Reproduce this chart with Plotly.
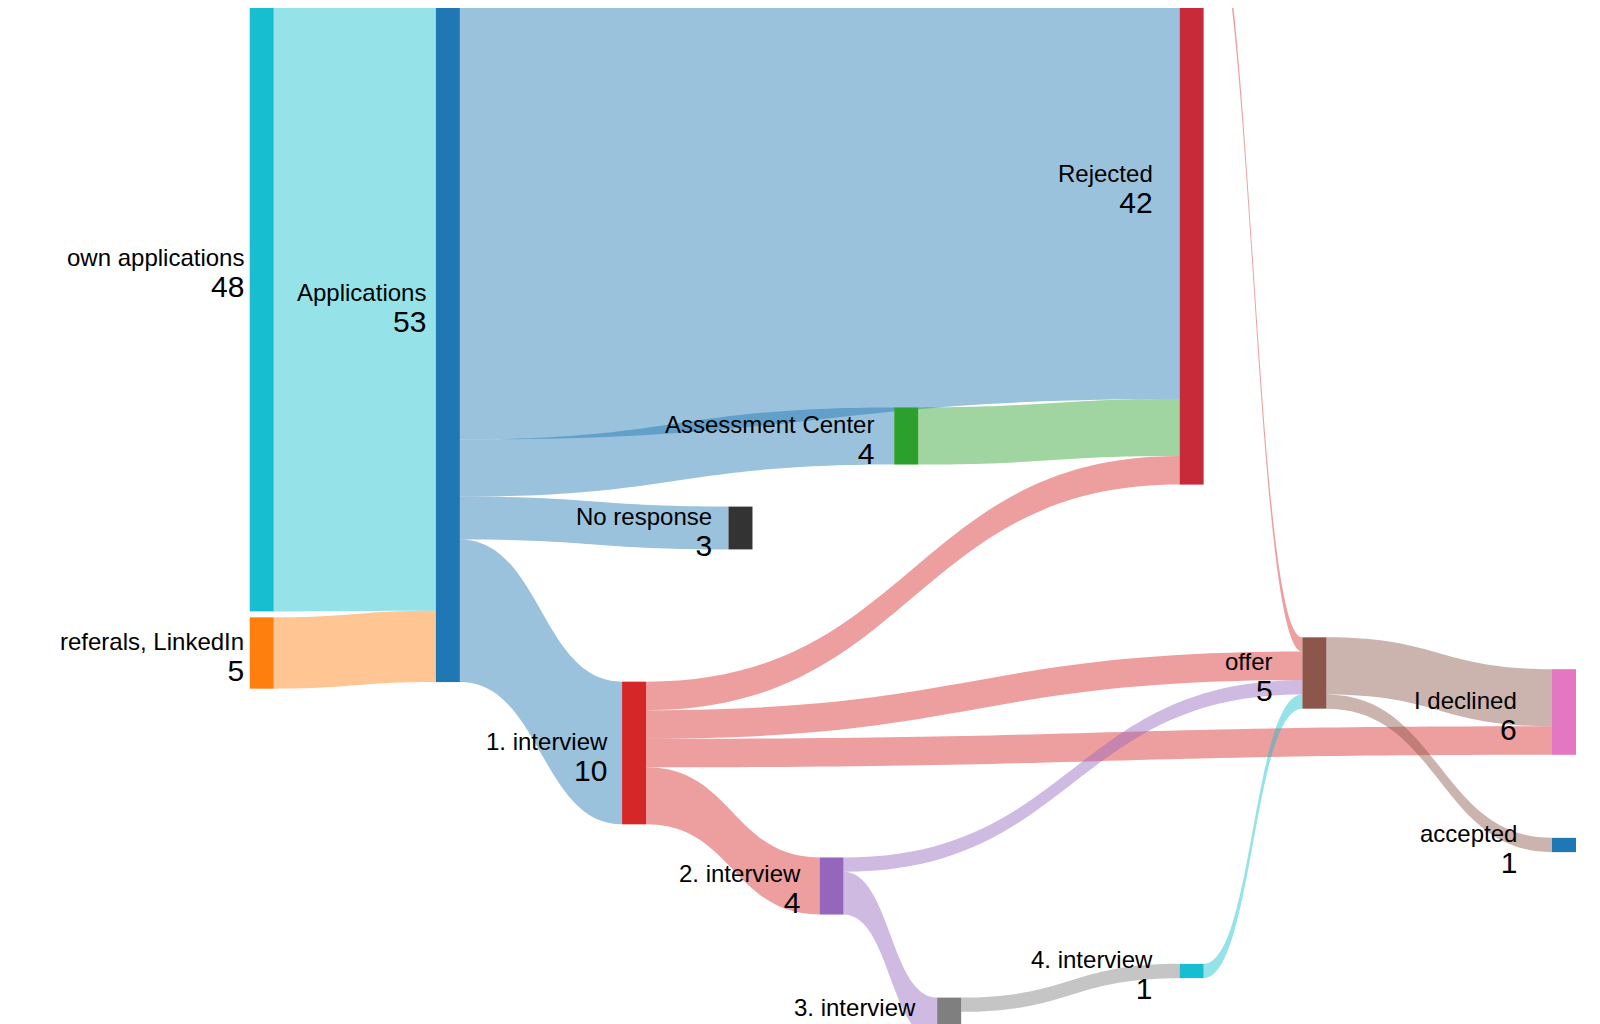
import plotly.graph_objects as go

W, H, NW = 1600, 1100, 24

names = ["own applications", "referals, LinkedIn", "Applications", "Rejected",
         "Assessment Center", "No response", "1. interview", "2. interview",
         "3. interview", "4. interview", "offer", "I declined", "accepted"]
node_values = [48, 5, 53, 42, 4, 3, 10, 4, 3, 1, 5, 6, 1]
node_colors = ["#17becf", "#ff7f0e", "#1f77b4", "#c92a3a", "#2ca02c", "#333333",
               "#d62728", "#9467bd", "#7f7f7f", "#17becf", "#8c564b", "#e377c2", "#1f77b4"]
# pixel positions (left edge, vertical centre)
node_left = [248, 248, 430, 1157, 878, 716, 612, 805, 920, 1157, 1277, 1521, 1521]
node_mid = [261, 645, 296, 177, 428, 520, 745, 878, 1011, 963, 665, 704, 837]

sources = [0, 1, 2, 2, 2, 2, 4, 6, 6, 6, 6, 7, 7, 8, 3, 9, 10, 10]
targets = [2, 2, 3, 4, 5, 6, 3, 3, 10, 11, 7, 10, 8, 9, 10, 10, 11, 12]
values = [48, 5, 36, 4, 3, 10, 4, 2, 2, 2, 4, 1, 3, 1, 1, 1, 4, 1]

# invisible spacer flow that only sets the vertical scale of the diagram
SPACER = 22


def rgba(h, a=0.45):
    h = h.lstrip("#")
    return "rgba(%d,%d,%d,%s)" % (int(h[0:2], 16), int(h[2:4], 16), int(h[4:6], 16), a)


link_colors = [rgba(node_colors[s]) for s in sources]
link_colors[14] = rgba("#d62728")  # Rejected -> offer

n = len(names)
xs = [l / (W - NW - 12) for l in node_left] + [0.0, 0.99]
ys = [m / H for m in node_mid] + [0.999, 0.999]

fig = go.Figure(go.Sankey(
    arrangement="fixed",
    textfont=dict(size=1, color="rgba(0,0,0,0)"),
    node=dict(
        label=[""] * (n + 2),
        color=node_colors + ["rgba(0,0,0,0)", "rgba(0,0,0,0)"],
        thickness=NW,
        pad=15,
        line=dict(width=0),
        x=xs,
        y=ys,
        hoverinfo="skip",
    ),
    link=dict(source=sources + [n], target=targets + [n + 1],
              value=values + [SPACER],
              color=link_colors + ["rgba(0,0,0,0)"], hoverinfo="skip"),
))

# node labels: name with the value below, right-aligned left of each node
for name, v, l, m in zip(names, node_values, node_left, node_mid):
    fig.add_annotation(
        x=(l - 10) / W, y=1 - (m + 4) / H, xref="paper", yref="paper",
        xanchor="right", yanchor="middle", align="right", showarrow=False,
        text="%s<br><span style='font-size:30px'>%d</span>" % (name, v),
        font=dict(family="Liberation Sans, Arial", size=24, color="black"),
    )

fig.update_layout(width=W, height=H, margin=dict(l=0, r=0, t=0, b=0),
                  paper_bgcolor="white")
fig.write_html("out.html")
